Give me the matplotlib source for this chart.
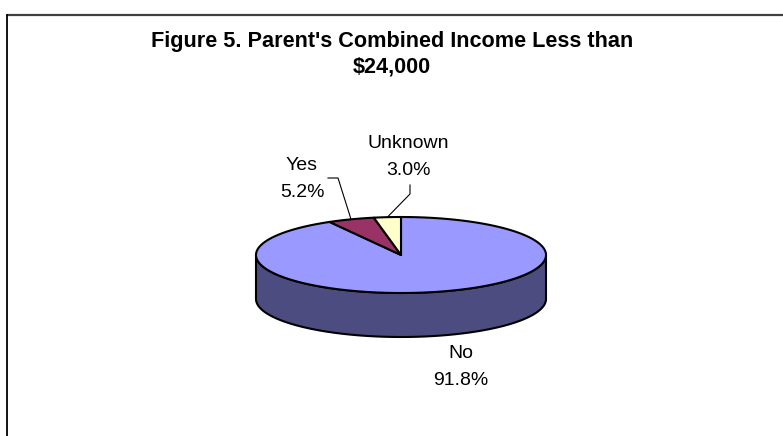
import numpy as np
import matplotlib
matplotlib.use("Agg")
import matplotlib.pyplot as plt
from matplotlib.patches import Polygon

# --- data ---------------------------------------------------------------
categories = ["No", "Yes", "Unknown"]
values = [91.8, 5.2, 3.0]
pct_labels = ["91.8%", "5.2%", "3.0%"]
title_lines = ["Figure 5. Parent's Combined Income Less than", "$24,000"]

# --- styling ------------------------------------------------------------
top_colors = ["#9999FF", "#993366", "#FFFFCC"]
side_color = "#4C4C80"
FONT = "Liberation Sans"

W, H = 783, 436
fig = plt.figure(figsize=(W / 100, H / 100), dpi=100)
ax = fig.add_axes([0, 0, 1, 1])
ax.set_xlim(0, W)
ax.set_ylim(H, 0)
ax.axis("off")

# chart frame (top and left edges)
ax.plot([7, W], [14.8, 14.8], color="#404040", lw=1.6, solid_capstyle="butt")
ax.plot([7.3, 7.3], [14, H], color="black", lw=1.3, solid_capstyle="butt")

# title
title_fs = 15.6
ax.text(392, 47, title_lines[0], ha="center", va="baseline",
        fontsize=title_fs, fontweight="bold", family=FONT)
ax.text(392, 72, title_lines[1], ha="center", va="baseline",
        fontsize=title_fs, fontweight="bold", family=FONT)

# --- 3-D pie geometry -----------------------------------------------------
cx, cy = 401, 255      # centre of the top face
ra, rb = 145, 38       # ellipse semi-axes
depth = 44


def rim(theta_deg, dy=0.0):
    t = np.radians(theta_deg)
    return cx + ra * np.sin(t), cy - rb * np.cos(t) + dy


total = float(np.sum(values))
bounds = np.concatenate([[0.0], np.cumsum(values) / total * 360.0])

# front wall (visible between 90 and 270 degrees, all inside the first slice)
th = np.linspace(90, 270, 200)
xs, ys = rim(th)
xb, yb = rim(th[::-1], depth)
side = Polygon(np.column_stack([np.r_[xs, xb], np.r_[ys, yb]]),
               closed=True, facecolor=side_color, edgecolor="black", lw=1.5,
               joinstyle="round")
ax.add_patch(side)

# top face wedges
for i, (v, col) in enumerate(zip(values, top_colors)):
    t0, t1 = bounds[i], bounds[i + 1]
    th = np.linspace(t0, t1, max(int(t1 - t0) * 2, 8))
    px, py = rim(th)
    poly = Polygon(np.column_stack([np.r_[cx, px], np.r_[cy, py]]),
                   closed=True, facecolor=col, edgecolor="black", lw=1.5,
                   joinstyle="round")
    ax.add_patch(poly)

# --- labels ---------------------------------------------------------------
lab_fs = 14
line_gap = 27
# (label centre x, first baseline y, leader elbow points or None)
label_layout = {
    "No": (461, 358, None),
    "Yes": (302, 170, [(328, 178), (338, 178)]),
    "Unknown": (408, 148, [(410, 185), (410, 194)]),
}
for i, name in enumerate(categories):
    lx, ly, elbow = label_layout[name]
    ax.text(lx, ly, name, ha="center", va="baseline", fontsize=lab_fs, family=FONT)
    ax.text(lx, ly + line_gap, pct_labels[i], ha="center", va="baseline",
            fontsize=lab_fs, family=FONT)
    if elbow is not None:
        mid = (bounds[i] + bounds[i + 1]) / 2
        ex, ey = rim(mid)
        pts = elbow + [(ex, ey)]
        ax.plot([p[0] for p in pts], [p[1] for p in pts], color="black", lw=0.8)

fig.savefig("out.png", dpi=100)
